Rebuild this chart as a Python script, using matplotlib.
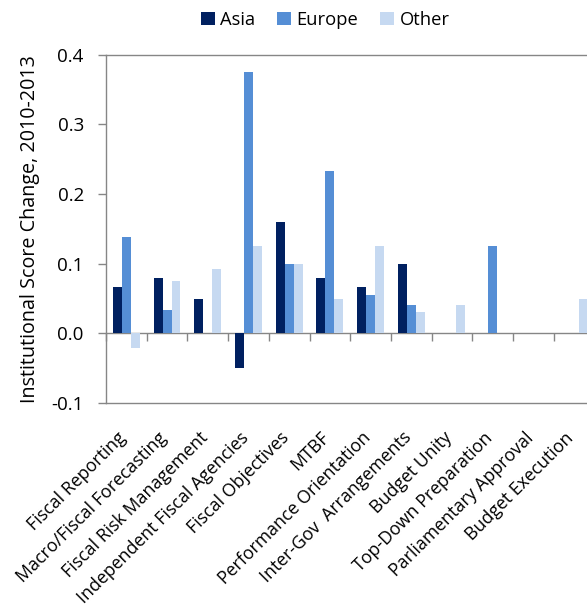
import matplotlib.pyplot as plt
import matplotlib.transforms as mtransforms
import numpy as np

# =============================================================================
# data
# =============================================================================
categories = ["Fiscal Reporting", "Macro/Fiscal Forecasting", "Fiscal Risk Management",
              "Independent Fiscal Agencies", "Fiscal Objectives", "MTBF",
              "Performance Orientation", "Inter-Gov  Arrangements", "Budget Unity",
              "Top-Down Preparation", "Parliamentary Approval", "Budget Execution"]
asia = [0.066, 0.080, 0.050, -0.050, 0.160, 0.080, 0.066, 0.100, 0.0, 0.0, 0.0, 0.0]
europe = [0.138, 0.033, 0.0, 0.375, 0.100, 0.233, 0.055, 0.041, 0.0, 0.125, 0.0, 0.0]
other = [-0.021, 0.075, 0.093, 0.125, 0.100, 0.050, 0.125, 0.031, 0.041, 0.0, 0.0, 0.050]
yticks = [-0.1, 0.0, 0.1, 0.2, 0.3, 0.4]

# =============================================================================
# plot
# =============================================================================
plt.rcParams['font.family'] = ['Open Sans', 'DejaVu Sans']
grey = "#868686"

fig = plt.figure(figsize=(5.87, 6.14), dpi=100)
ax = fig.add_axes([0.1806, 0.3436, 0.832, 0.5673])

x = np.arange(len(categories))
w = 0.22
ax.bar(x - w, asia, w, color="#002060", label="Asia")
ax.bar(x, europe, w, color="#558ED5", label="Europe")
ax.bar(x + w, other, w, color="#C6D9F1", label="Other")

ax.set_xlim(-0.5, len(categories) - 0.5)
ax.set_ylim(-0.1, 0.4)
ax.set_yticks(yticks)
ax.set_yticklabels(["%.1f" % v for v in yticks], fontsize=13.5)
ax.set_xticks(x)
ax.set_xticklabels(categories, rotation=45, ha="right", va="center",
                   rotation_mode="anchor", fontsize=12.8)
ax.tick_params(axis="x", length=0, pad=23)
ax.tick_params(axis="y", direction="out", length=6, width=1, color=grey, pad=10)

# 標籤稍微往左移
shift = mtransforms.ScaledTranslation(-2 / 72, 0, fig.dpi_scale_trans)
for lab in ax.get_xticklabels():
    lab.set_transform(lab.get_transform() + shift)

for s in ["left", "top", "bottom"]:
    ax.spines[s].set_color(grey)
    ax.spines[s].set_linewidth(1)
ax.spines["right"].set_visible(False)

# zero line with category separators
sec = ax.secondary_xaxis(0.2)
sec.set_xticks(np.arange(len(categories) + 1) - 0.5)
sec.tick_params(direction="out", length=6, width=1, color=grey, labelbottom=False)
sec.spines["bottom"].set_color(grey)
sec.spines["bottom"].set_linewidth(1)

ax.set_ylabel("Institutional Score Change, 2010-2013", fontsize=14.2, labelpad=8)

fig.legend(loc="center", bbox_to_anchor=(0.554, 0.968), ncol=3, frameon=False,
           fontsize=13.2, handlelength=0.75, handleheight=0.75, handletextpad=0.3,
           columnspacing=1.2)

fig.savefig("out.png", dpi=100)
